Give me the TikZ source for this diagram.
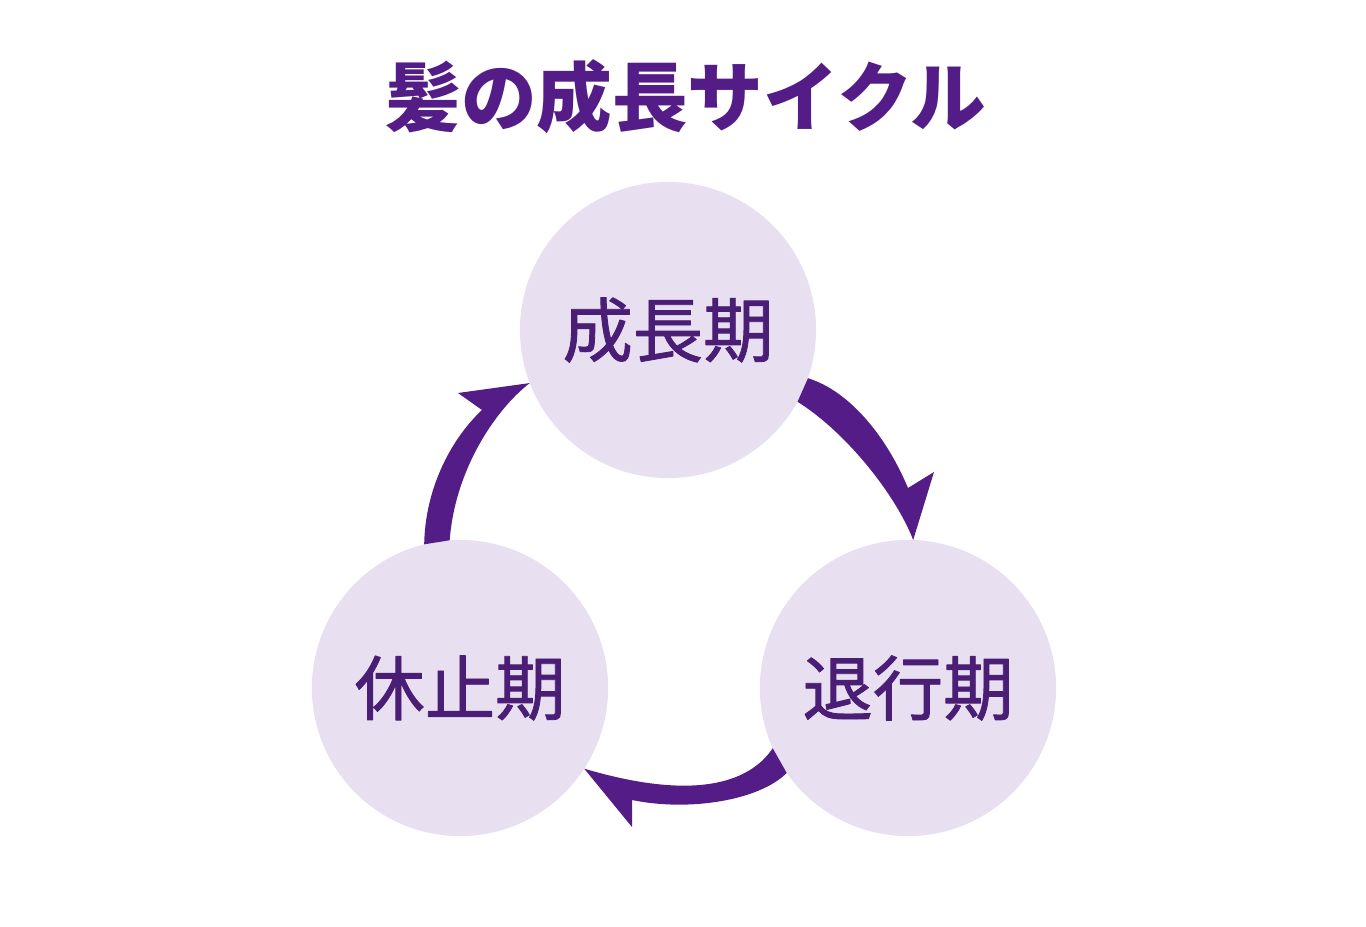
\documentclass[tikz,border=0pt]{standalone}
\usepackage{fontspec}
\newfontfamily\jpfont{Noto Sans CJK JP}
\newfontfamily\jpmedium[FakeBold=1.2]{Noto Sans CJK JP}
\usetikzlibrary{calc}

\definecolor{hairpurple}{RGB}{84,28,134}
\definecolor{phasefill}{RGB}{232,223,241}
\definecolor{phasetext}{RGB}{75,30,118}

\begin{document}
\begin{tikzpicture}[x=0.01cm,y=-0.01cm,line join=round,
  phase/.style={circle,fill=phasefill,minimum size=2.96cm,inner sep=0pt,outer sep=0pt,
    text=phasetext,font=\jpmedium\fontsize{20}{24}\selectfont},
  cyclearrow/.style={fill=hairpurple}]

\useasboundingbox (0,0) rectangle (1366,927);

% -----------------------
% Title
% -----------------------
\node[text=hairpurple,font=\jpfont\bfseries\fontsize{21.5}{26}\selectfont] (title) at (686,97) {髪の成長サイクル};

% -----------------------
% Phases
% -----------------------
\node[phase] (grow)    at (668,330) {成長期};
\node[phase] (regress) at (908,688) {退行期};
\node[phase] (rest)    at (460,688) {休止期};

% -----------------------
% Cycle arrows (barb on the outer side)
% -----------------------
% grow -> regress
\fill[cyclearrow] (grow.-19) .. controls (852,392) and (888,440) .. (908,488)
  -- (934,472) -- (regress.88)
  .. controls (896,495) and (846,432) .. (grow.-29) -- cycle;

% regress -> rest
\fill[cyclearrow] (regress.204) .. controls (748,785) and (690,800) .. (rest.-33)
  -- (632,827) -- (632,800)
  .. controls (690,812) and (760,800) .. (regress.215) -- cycle;

% rest -> grow
\fill[cyclearrow] (rest.104) .. controls (425,490) and (450,440) .. (482,410)
  -- (458,393) -- (grow.201)
  .. controls (495,410) and (455,470) .. (rest.94) -- cycle;

\end{tikzpicture}
\end{document}
